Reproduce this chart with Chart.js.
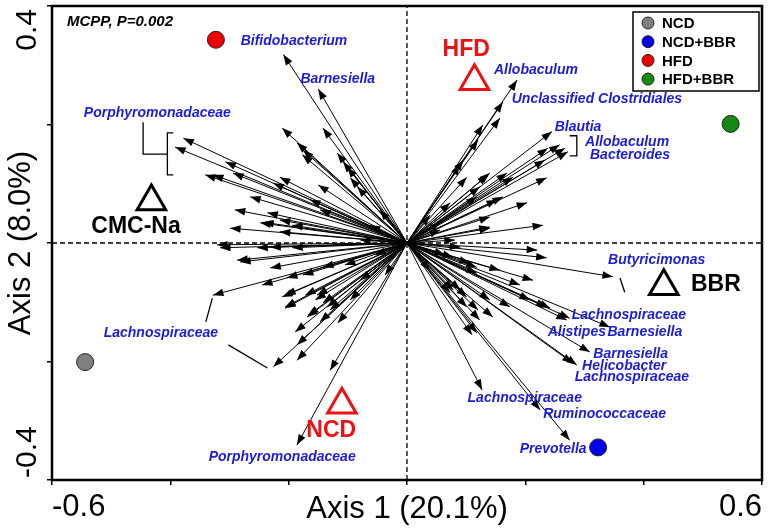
<!DOCTYPE html>
<html><head><meta charset="utf-8">
<script src="https://cdn.jsdelivr.net/npm/chart.js@4/dist/chart.umd.min.js"></script>
<style>html,body{margin:0;padding:0;background:#fff}#wrap{width:770px;height:532px}</style>
</head><body><div id="wrap"><canvas id="c" width="770" height="532"></canvas></div>
<script>
const FONT = "Arial, 'Liberation Sans', sans-serif";

// ---- axes ----
const xTickLabels = ['-0.6', '', '', '', '', '', '0.6'];
const yTickLabels = ['-0.4', '', '', '', '0.4'];
const xTitle = 'Axis 1 (20.1%)';
const yTitle = 'Axis 2 (8.0%)';

// ---- group centroids (circles) ----
const groupNames = ['NCD', 'NCD+BBR', 'HFD', 'HFD+BBR'];
const groupX = [-0.544, 0.323, -0.323, 0.547];
const groupY = [-0.201, -0.345, 0.343, 0.201];
const groupColors = ['#808080', '#0000ee', '#ee0000', '#138a13'];

// ---- factor centroids (open triangles) ----
const factorNames = ['HFD', 'NCD', 'CMC-Na', 'BBR'];
const factorX = [0.114, -0.110, -0.432, 0.434];
const factorY = [0.273, -0.273, 0.070, -0.073];
const factorColors = ['#ee1111', '#ee1111', '#000000', '#000000'];
const factorLabelX = [0.100, -0.128, -0.458, 0.522];
const factorLabelY = [0.327, -0.316, 0.028, -0.071];

// ---- taxa arrows (tip coordinates, origin at 0,0) ----
const arrowX = [
 -0.209,-0.150,-0.211,-0.142,-0.186,-0.176,-0.177,-0.118,-0.108,-0.101,
 -0.378,-0.392,-0.307,-0.294,-0.341,-0.328,-0.215,-0.226,-0.150,-0.096,
 -0.084,-0.265,-0.291,-0.236,-0.215,-0.299,-0.243,-0.215,-0.194,-0.164,
 -0.147,-0.321,-0.316,-0.253,-0.194,-0.282,-0.231,-0.203,-0.176,-0.142,
 -0.245,-0.328,-0.211,-0.172,-0.152,-0.206,-0.142,-0.169,-0.130,-0.189,
 -0.147,-0.117,-0.186,-0.226,-0.186,-0.130,-0.186,-0.287,-0.096,-0.079,
 -0.105,-0.248,-0.231,-0.206,-0.206,-0.167,-0.155,-0.135,
 0.186,0.162,0.157,0.128,0.245,0.258,0.267,0.272,0.238,0.233,
 0.236,0.203,0.230,0.140,0.179,0.090,0.123,0.152,0.140,0.140,
 0.118,0.101,0.120,0.095,0.220,0.236,0.213,0.348,0.236,0.275,
 0.343,0.174,0.145,0.120,0.270,0.242,0.309,0.280,0.287,0.118,
 0.110,0.127,0.225,0.275,0.073,0.090,0.101,0.078,0.106,0.118,
 0.191,0.157,0.140,0.208,0.137,0.169,0.140,0.090,0.118,0.078,
 0.101,0.123,0.162,0.073,0.056,
 -0.063,-0.054,0.056,0.064,-0.046,-0.037,0.039,0.039,-0.079,0.081
];
const arrowY = [
 0.318,0.260,0.194,0.194,0.169,0.157,0.149,0.152,0.137,0.128,
 0.177,0.162,0.137,0.118,0.115,0.115,0.111,0.101,0.098,0.110,
 0.095,0.078,0.056,0.051,0.039,0.025,0.035,0.019,0.030,0.073,
 0.056,-0.003,-0.008,-0.008,-0.008,-0.032,-0.042,-0.059,-0.054,-0.041,
 -0.071,-0.088,-0.091,-0.088,-0.088,-0.110,-0.101,-0.125,-0.113,-0.150,
 -0.133,-0.135,-0.172,-0.209,-0.198,-0.215,-0.341,-0.029,-0.096,-0.063,
 -0.037,0.034,-0.007,-0.088,-0.108,-0.122,-0.096,-0.108,
 0.275,0.238,0.211,0.199,0.188,0.166,0.160,0.154,0.160,0.140,
 0.110,0.068,0.030,0.118,0.111,0.132,0.095,0.073,0.044,0.025,
 0.078,0.111,0.174,0.140,-0.012,-0.025,-0.063,-0.057,-0.108,-0.127,
 -0.142,-0.108,-0.125,-0.113,-0.130,-0.110,-0.184,-0.203,-0.206,-0.152,
 -0.155,-0.248,-0.282,-0.333,-0.084,-0.079,-0.108,-0.024,-0.034,-0.051,
 -0.071,-0.046,-0.096,-0.096,0.115,0.118,0.027,-0.007,-0.041,-0.079,
 -0.091,-0.130,0.078,0.068,0.034,
 0.030,-0.020,0.022,-0.020,0.056,-0.054,0.047,-0.046,0.005,0.005
];

// ---- taxa labels ----
const labelText = ['Bifidobacterium','Barnesiella','Porphyromonadaceae','Allobaculum',
 'Unclassified Clostridiales','Blautia','Allobaculum','Bacteroides','Butyricimonas',
 'Lachnospiraceae','Alistipes','Barnesiella','Barnesiella','Helicobacter','Lachnospiraceae',
 'Lachnospiraceae','Ruminococcaceae','Prevotella','Lachnospiraceae','Porphyromonadaceae'];
const labelX = [-0.191,-0.117,-0.422,0.218,0.321,0.289,0.372,0.377,0.422,0.375,0.287,0.402,
 0.378,0.367,0.380,0.199,0.334,0.247,-0.416,-0.211];
const labelY = [0.340,0.277,0.220,0.291,0.242,0.196,0.171,0.149,-0.029,-0.122,-0.150,-0.150,
 -0.188,-0.208,-0.226,-0.262,-0.289,-0.348,-0.152,-0.361];

// ---- label leader lines / brackets ----
const connectorX = [
 [-0.446,-0.446,-0.405],
 [-0.395,-0.405,-0.405,-0.395],
 [-0.329,-0.340],
 [-0.302,-0.236],
 [0.275,0.287,0.287,0.275],
 [0.360,0.368]
];
const connectorY = [
 [0.204,0.150,0.150],
 [0.186,0.186,0.115,0.115],
 [-0.093,-0.133],
 [-0.172,-0.211],
 [0.181,0.181,0.147,0.147],
 [-0.059,-0.083]
];
const statText = 'MCPP, P=0.002';

// ---------- datasets ----------
const datasets = [];
datasets.push({
  data: groupX.map((v, i) => ({x: v, y: groupY[i]})),
  pointRadius: 8.5, pointBackgroundColor: groupColors, pointBorderColor: '#222',
  pointBorderWidth: 1, order: 0
});
datasets.push({
  data: factorX.map((v, i) => ({x: v, y: factorY[i]})),
  pointStyle: 'triangle', pointRadius: 16.5, pointBorderColor: factorColors,
  pointBackgroundColor: 'rgba(0,0,0,0)', pointBorderWidth: 3, order: 0
});
arrowX.forEach((v, i) => {
  datasets.push({
    data: [{x: 0, y: 0}, {x: v, y: arrowY[i]}],
    showLine: true, borderColor: '#000', borderWidth: 1, pointRadius: 0, order: 2
  });
});
connectorX.forEach((xs, k) => {
  datasets.push({
    data: xs.map((v, i) => ({x: v, y: connectorY[k][i]})),
    showLine: true, borderColor: '#000', borderWidth: 1.3, pointRadius: 0, order: 2
  });
});
datasets.push({
  data: [{x: -0.6, y: 0}, {x: 0.6, y: 0}], showLine: true, borderColor: '#000',
  borderWidth: 1.3, borderDash: [5, 3], pointRadius: 0, order: 3
});
datasets.push({
  data: [{x: 0, y: -0.4}, {x: 0, y: 0.4}], showLine: true, borderColor: '#000',
  borderWidth: 1.3, borderDash: [5, 3], pointRadius: 0, order: 3
});

const overlay = {
  id: 'overlay',
  afterDatasetsDraw(chart) {
    const {ctx, chartArea: a} = chart;
    const xs = chart.scales.x, ys = chart.scales.y;
    ctx.save();
    // arrow heads
    const ox = xs.getPixelForValue(0), oy = ys.getPixelForValue(0);
    ctx.fillStyle = '#000';
    arrowX.forEach((v, i) => {
      const tx = xs.getPixelForValue(v), ty = ys.getPixelForValue(arrowY[i]);
      const ang = Math.atan2(ty - oy, tx - ox);
      const L = 10.5, W = 3.8, c = Math.cos(ang), s = Math.sin(ang);
      ctx.beginPath();
      ctx.moveTo(tx, ty);
      ctx.lineTo(tx - L * c + W * s, ty - L * s - W * c);
      ctx.lineTo(tx - L * c - W * s, ty - L * s + W * c);
      ctx.closePath();
      ctx.fill();
    });
    // frame
    ctx.strokeStyle = '#000';
    ctx.lineWidth = 2.5;
    ctx.strokeRect(a.left, a.top, a.right - a.left, a.bottom - a.top);
    // taxa labels
    ctx.fillStyle = '#1c1cd6';
    ctx.font = 'italic bold 14px ' + FONT;
    ctx.textAlign = 'center';
    ctx.textBaseline = 'middle';
    labelText.forEach((t, i) => {
      ctx.fillText(t, xs.getPixelForValue(labelX[i]), ys.getPixelForValue(labelY[i]));
    });
    // factor labels
    ctx.font = 'bold 23px ' + FONT;
    factorNames.forEach((t, i) => {
      ctx.fillStyle = factorColors[i];
      ctx.fillText(t, xs.getPixelForValue(factorLabelX[i]), ys.getPixelForValue(factorLabelY[i]));
    });
    // stat text
    ctx.fillStyle = '#000';
    ctx.font = 'italic bold 15px ' + FONT;
    ctx.textAlign = 'left';
    ctx.fillText(statText, a.left + 15, a.top + 16);
    // legend
    const lx = 633, ly = 12, lw = 126, lh = 79;
    ctx.fillStyle = '#fff';
    ctx.fillRect(lx, ly, lw, lh);
    ctx.lineWidth = 1.5;
    ctx.strokeRect(lx, ly, lw, lh);
    ctx.font = 'bold 15px ' + FONT;
    groupNames.forEach((n, i) => {
      const cy = ly + 11 + i * 18.7;
      ctx.beginPath();
      ctx.arc(lx + 15, cy, 6, 0, Math.PI * 2);
      ctx.fillStyle = groupColors[i];
      ctx.fill();
      ctx.lineWidth = 1;
      ctx.strokeStyle = '#222';
      ctx.stroke();
      ctx.fillStyle = '#000';
      ctx.fillText(n, lx + 29, cy + 1);
    });
    // y tick labels (rotated)
    ctx.font = '30px ' + FONT;
    ctx.textBaseline = 'alphabetic';
    ys.ticks.forEach((tk, i) => {
      const lab = yTickLabels[i];
      if (!lab) return;
      const py = ys.getPixelForValue(tk.value);
      ctx.save();
      if (i === 0) { ctx.translate(36, py - 2); ctx.textAlign = 'left'; }
      else { ctx.translate(36, py + 3); ctx.textAlign = 'right'; }
      ctx.rotate(-Math.PI / 2);
      ctx.fillText(lab, 0, 0);
      ctx.restore();
    });
    ctx.restore();
  }
};

new Chart(document.getElementById('c'), {
  type: 'scatter',
  data: {datasets},
  options: {
    responsive: false, animation: false, events: [],
    layout: {autoPadding: false, padding: {top: 6, right: 8, left: 0, bottom: 0}},
    plugins: {legend: {display: false}, tooltip: {enabled: false}},
    scales: {
      x: {
        type: 'linear', min: -0.6, max: 0.6,
        afterFit(s) { s.height = 52; s.paddingLeft = 0; s.paddingRight = 0; },
        ticks: {stepSize: 0.2, autoSkip: false, maxRotation: 0, align: 'inner', padding: 4,
          color: '#000', font: {size: 31, family: FONT},
          callback: (v, i) => xTickLabels[i] || ''},
        grid: {display: true, drawOnChartArea: false, drawTicks: true, tickLength: 5, color: '#000', lineWidth: 1.5},
        border: {display: false},
        title: {display: true, text: xTitle, color: '#000', font: {size: 31, family: FONT}, padding: {top: 0, bottom: 4}}
      },
      y: {
        type: 'linear', min: -0.4, max: 0.4,
        afterFit(s) { s.width = 52; s.paddingTop = 0; s.paddingBottom = 0; },
        ticks: {stepSize: 0.2, autoSkip: false, color: '#000', font: {size: 2, family: FONT}, callback: () => ''},
        grid: {display: true, drawOnChartArea: false, drawTicks: true, tickLength: 5, color: '#000', lineWidth: 1.5},
        border: {display: false},
        title: {display: true, text: yTitle, color: '#000', font: {size: 31, family: FONT}, padding: {top: 3, bottom: 0}}
      }
    }
  },
  plugins: [overlay]
});
</script></body></html>
